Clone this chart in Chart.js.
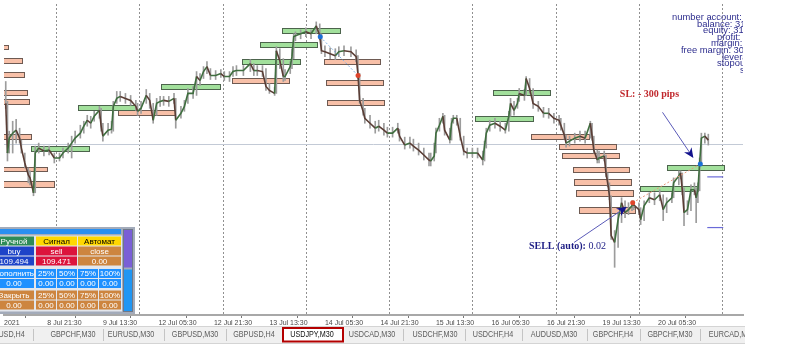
<!DOCTYPE html>
<html lang="ru">
<head>
    <meta charset="UTF-8">
    <title>USDJPY,M30</title>
    <script src="https://cdn.jsdelivr.net/npm/chart.js"></script>
    <style>
        html, body { margin: 0; padding: 0; background: #fff; }
        canvas { display: block; }
    </style>
</head>
<body>
    <canvas id="usdjpyChart" width="800" height="347"></canvas>

    <script>
        // M30 bar index (0 = left edge of the window)
        var bars = [
            1, 2, 3, 5, 7, 9, 10, 12, 14, 15,
            17, 18, 20, 23, 26, 29, 32, 34, 37, 39,
            41, 44, 46, 48, 50, 52, 55, 56, 57, 60,
            62, 63, 65, 67, 70, 73, 76, 77, 79, 82,
            84, 86, 88, 90, 92, 95, 98, 99, 102, 104,
            106, 109, 111, 113, 115, 117, 119, 122, 125, 127,
            130, 132, 134, 138, 142, 144, 146, 149, 151, 153,
            156, 157, 159, 161, 162, 165, 166, 167, 168, 171,
            174, 177, 180, 182, 183, 185, 188, 191, 193, 196,
            200, 203, 204, 205, 207, 208, 211, 214, 216, 219,
            221, 224, 227, 228, 231, 234, 236, 239, 242, 245,
            246, 248, 249, 251, 253, 254, 257, 258, 259, 261,
            263, 265, 267, 270, 273, 276, 277, 278, 280, 283,
            286, 289, 291, 292, 294, 296, 297, 300, 301, 303,
            305, 308, 311, 314, 317, 320, 321, 323, 324, 326,
            329, 332, 335, 338, 339, 340, 342, 343, 346, 347,
            348, 349, 350, 352, 354, 356, 358, 360, 362, 363,
            366, 367, 369, 372, 375, 378, 380, 382, 385, 386,
            389, 390, 391, 392, 394, 396, 398, 399, 400, 401,
            402, 404, 406
        ];
        var closes = [
            109.700, 109.450, 109.525, 109.550, 109.565, 109.525, 109.475, 109.400, 109.340, 109.325,
            109.250, 109.450, 109.475, 109.460, 109.465, 109.425, 109.425, 109.450, 109.475, 109.500,
            109.525, 109.550, 109.585, 109.615, 109.600, 109.635, 109.665, 109.585, 109.535, 109.565,
            109.570, 109.685, 109.725, 109.735, 109.725, 109.715, 109.685, 109.660, 109.675, 109.740,
            109.715, 109.615, 109.700, 109.710, 109.715, 109.710, 109.725, 109.615, 109.650, 109.685,
            109.750, 109.750, 109.835, 109.815, 109.860, 109.885, 109.840, 109.840, 109.850, 109.835,
            109.835, 109.860, 109.865, 109.865, 109.900, 109.865, 109.865, 109.860, 109.785, 109.765,
            109.750, 109.965, 109.915, 109.835, 109.835, 109.885, 109.935, 110.035, 110.040, 110.050,
            110.060, 110.050, 110.090, 110.040, 109.965, 109.960, 109.950, 109.940, 109.960, 109.965,
            109.960, 109.935, 109.850, 109.715, 109.660, 109.625, 109.600, 109.575, 109.585, 109.565,
            109.550, 109.550, 109.575, 109.535, 109.490, 109.500, 109.485, 109.465, 109.440, 109.415,
            109.410, 109.435, 109.550, 109.590, 109.635, 109.565, 109.515, 109.600, 109.625, 109.625,
            109.535, 109.460, 109.450, 109.450, 109.450, 109.415, 109.485, 109.550, 109.590, 109.600,
            109.585, 109.565, 109.635, 109.700, 109.665, 109.700, 109.750, 109.740, 109.825, 109.775,
            109.700, 109.685, 109.650, 109.650, 109.625, 109.615, 109.590, 109.540, 109.500, 109.510,
            109.525, 109.535, 109.525, 109.600, 109.535, 109.465, 109.415, 109.425, 109.435, 109.350,
            109.300, 109.235, 109.035, 109.000, 109.115, 109.200, 109.150, 109.165, 109.185, 109.190,
            109.165, 109.115, 109.185, 109.225, 109.215, 109.240, 109.165, 109.200, 109.225, 109.300,
            109.335, 109.350, 109.265, 109.150, 109.165, 109.265, 109.265, 109.225, 109.265, 109.400,
            109.525, 109.535, 109.515
        ];
        var highs = [
            109.810, 109.710, 109.560, 109.610, 109.620, 109.575, 109.515, 109.450, 109.375, 109.360,
            109.300, 109.485, 109.500, 109.485, 109.485, 109.450, 109.450, 109.475, 109.500, 109.535,
            109.560, 109.590, 109.610, 109.640, 109.635, 109.660, 109.685, 109.675, 109.600, 109.600,
            109.610, 109.710, 109.760, 109.760, 109.750, 109.740, 109.715, 109.700, 109.710, 109.770,
            109.750, 109.700, 109.725, 109.735, 109.735, 109.735, 109.750, 109.725, 109.685, 109.715,
            109.775, 109.785, 109.860, 109.850, 109.885, 109.910, 109.875, 109.865, 109.870, 109.860,
            109.860, 109.885, 109.890, 109.890, 109.920, 109.900, 109.890, 109.890, 109.875, 109.800,
            109.780, 109.985, 109.975, 109.925, 109.870, 109.910, 109.975, 110.050, 110.060, 110.070,
            110.080, 110.070, 110.110, 110.100, 110.050, 109.990, 109.980, 109.975, 109.985, 109.990,
            109.985, 109.970, 109.940, 109.850, 109.725, 109.675, 109.640, 109.610, 109.615, 109.600,
            109.580, 109.580, 109.600, 109.570, 109.530, 109.530, 109.520, 109.500, 109.475, 109.450,
            109.450, 109.500, 109.575, 109.625, 109.650, 109.640, 109.575, 109.625, 109.640, 109.640,
            109.625, 109.535, 109.475, 109.475, 109.475, 109.460, 109.510, 109.575, 109.615, 109.625,
            109.610, 109.600, 109.660, 109.725, 109.710, 109.725, 109.775, 109.770, 109.835, 109.825,
            109.775, 109.710, 109.680, 109.675, 109.650, 109.640, 109.625, 109.600, 109.540, 109.535,
            109.550, 109.560, 109.560, 109.610, 109.600, 109.535, 109.465, 109.460, 109.460, 109.440,
            109.350, 109.300, 109.235, 109.060, 109.150, 109.225, 109.210, 109.200, 109.210, 109.210,
            109.200, 109.175, 109.210, 109.250, 109.250, 109.265, 109.240, 109.225, 109.250, 109.325,
            109.360, 109.360, 109.350, 109.275, 109.210, 109.290, 109.300, 109.275, 109.300, 109.425,
            109.550, 109.550, 109.545
        ];
        var lows = [
            109.675, 109.410, 109.450, 109.450, 109.500, 109.500, 109.450, 109.375, 109.300, 109.290,
            109.235, 109.250, 109.450, 109.435, 109.440, 109.400, 109.410, 109.425, 109.450, 109.425,
            109.500, 109.525, 109.550, 109.585, 109.575, 109.610, 109.625, 109.560, 109.510, 109.540,
            109.550, 109.560, 109.700, 109.710, 109.700, 109.690, 109.665, 109.640, 109.650, 109.700,
            109.675, 109.600, 109.640, 109.685, 109.690, 109.685, 109.700, 109.575, 109.625, 109.660,
            109.700, 109.725, 109.740, 109.790, 109.825, 109.850, 109.820, 109.820, 109.830, 109.815,
            109.810, 109.835, 109.840, 109.840, 109.860, 109.840, 109.840, 109.835, 109.765, 109.750,
            109.740, 109.750, 109.875, 109.810, 109.815, 109.850, 109.875, 109.925, 110.015, 110.025,
            110.035, 110.025, 110.050, 110.020, 109.950, 109.935, 109.925, 109.920, 109.935, 109.940,
            109.935, 109.910, 109.825, 109.700, 109.640, 109.600, 109.575, 109.550, 109.560, 109.540,
            109.530, 109.530, 109.550, 109.510, 109.470, 109.475, 109.460, 109.440, 109.415, 109.385,
            109.385, 109.410, 109.450, 109.560, 109.600, 109.540, 109.500, 109.515, 109.600, 109.590,
            109.515, 109.440, 109.425, 109.430, 109.425, 109.390, 109.410, 109.475, 109.560, 109.575,
            109.560, 109.550, 109.560, 109.635, 109.640, 109.675, 109.710, 109.715, 109.740, 109.750,
            109.675, 109.660, 109.630, 109.625, 109.600, 109.590, 109.565, 109.520, 109.480, 109.485,
            109.500, 109.510, 109.500, 109.525, 109.515, 109.450, 109.400, 109.400, 109.410, 109.330,
            109.280, 109.215, 109.015, 108.875, 108.975, 109.100, 109.125, 109.140, 109.160, 109.165,
            109.140, 109.090, 109.110, 109.200, 109.190, 109.210, 109.110, 109.150, 109.200, 109.225,
            109.290, 109.320, 109.240, 109.085, 109.140, 109.160, 109.240, 109.100, 109.200, 109.260,
            109.400, 109.500, 109.490
        ];

        var tickBars = [0, 25, 57, 89, 121, 153, 185, 217, 249, 281, 313, 345, 377];
        var tickLabels = ['2021', '8 Jul 21:30', '9 Jul 13:30', '12 Jul 05:30', '12 Jul 21:30', '13 Jul 13:30',
            '14 Jul 05:30', '14 Jul 21:30', '15 Jul 13:30', '16 Jul 05:30', '16 Jul 21:30', '19 Jul 13:30', '20 Jul 05:30'];
        var separatorBars = [30, 78, 126, 174, 222, 270, 318, 366, 414];

        var bidLevel = 109.495;

        // zones: [start bar, end bar, upper price, lower price]
        var sellZones = [
            [-20, 2.3, 109.992, 109.975], [-20, 10.3, 109.927, 109.903], [-20, 11.5, 109.857, 109.833],
            [-20, 13.2, 109.767, 109.740], [-20, 14.4, 109.722, 109.698], [-20, 15.5, 109.547, 109.523],
            [-20, 24.7, 109.382, 109.358], [-20, 28.7, 109.307, 109.280], [66, 98.7, 109.667, 109.643],
            [131.4, 164.2, 109.827, 109.803], [184.3, 217, 109.922, 109.898], [185.4, 218.2, 109.817, 109.793],
            [186, 219.3, 109.717, 109.690], [303.7, 337, 109.547, 109.520], [319.7, 353, 109.497, 109.470],
            [321.5, 354.8, 109.452, 109.425], [327.8, 360.5, 109.382, 109.355], [328.4, 361.7, 109.317, 109.290],
            [329.5, 362.8, 109.262, 109.235], [331.2, 364, 109.177, 109.150]
        ];
        var buyZones = [
            [15.5, 48.8, 109.487, 109.460], [42.5, 75.8, 109.692, 109.668], [90.7, 124.6, 109.797, 109.770],
            [137.2, 170.5, 109.922, 109.898], [147.5, 180.3, 110.007, 109.983], [160.2, 193.5, 110.077, 110.053],
            [271.5, 304.8, 109.637, 109.613], [281.9, 314.6, 109.767, 109.740], [366.8, 400.1, 109.282, 109.258],
            [382.3, 415, 109.392, 109.365]
        ];

        // trades: [bar, price] open -> close
        var trade1 = [[182.3, 110.035], [204.1, 109.840]];
        var trade2 = [[362.4, 109.200], [401.4, 109.395]];
        var levelLines = [[405.4, 414.6, 109.330], [405.4, 414.6, 109.075]];
        var sellArrow = [[328.6, 109.000], [359.0, 109.180]];
        var slArrow = [[379.6, 109.655], [397.4, 109.425]];

        var infoLines = ['number account:', 'balance: 31', 'equity: 31', 'profit:', 'margin:',
            'free margin: 30', 'levera', 'stopou', 's'];
        var infoX = [672, 697, 703, 717, 711, 681, 722, 717, 740];

        var tabNames = ['EURUSD,H4', 'GBPCHF,M30', 'EURUSD,M30', 'GBPUSD,M30', 'GBPUSD,H4', 'USDJPY,M30',
            'USDCAD,M30', 'USDCHF,M30', 'USDCHF,H4', 'AUDUSD,M30', 'GBPCHF,H4', 'GBPCHF,M30', 'EURCAD,M30'];
        var tabCenters = [4, 73, 131, 195, 254, 312, 372, 435, 493, 554, 613, 670, 732];
        var tabSeparators = [33, 103, 164, 226, 403, 465, 522, 587, 640, 700];

        var col3 = [[-8, 34], [36, 77], [78, 121]];
        var col5 = [[-8, 34], [36, 56], [57, 77], [78, 98], [99, 121]];
        var panelRows = [
            { top: 236.5, cols: col3, cells: [['Ручной', '#2e8b57', '#fff'], ['Сигнал', '#ffd700', '#000'], ['Автомат', '#ffd700', '#000']] },
            { top: 246.5, cols: col3, cells: [['buy', '#1e44c8', '#fff'], ['sell', '#dc143c', '#fff'], ['close', '#cd853f', '#fff']] },
            { top: 256.5, cols: col3, cells: [['109.494', '#1e44c8', '#fff'], ['109.471', '#dc143c', '#fff'], ['0.00', '#cd853f', '#fff']] },
            { top: 269, cols: col5, cells: [['Дополнить', '#1e90ff', '#fff'], ['25%', '#1e90ff', '#fff'], ['50%', '#1e90ff', '#fff'], ['75%', '#1e90ff', '#fff'], ['100%', '#1e90ff', '#fff']] },
            { top: 279, cols: col5, cells: [['0.00', '#1e90ff', '#fff'], ['0.00', '#1e90ff', '#fff'], ['0.00', '#1e90ff', '#fff'], ['0.00', '#1e90ff', '#fff'], ['0.00', '#1e90ff', '#fff']] },
            { top: 290.5, cols: col5, cells: [['Закрыть', '#cd853f', '#fff'], ['25%', '#cd853f', '#fff'], ['50%', '#cd853f', '#fff'], ['75%', '#cd853f', '#fff'], ['100%', '#cd853f', '#fff']] },
            { top: 300.5, cols: col5, cells: [['0.00', '#cd853f', '#fff'], ['0.00', '#cd853f', '#fff'], ['0.00', '#cd853f', '#fff'], ['0.00', '#cd853f', '#fff'], ['0.00', '#cd853f', '#fff']] }
        ];

        function pts(list) {
            return list.map(function(p) { return { x: p[0], y: p[1] }; });
        }

        // things behind the candles: separators, bid line, zones
        var backdrop = {
            id: 'backdrop',
            beforeDatasetsDraw: function(chart) {
                var ctx = chart.ctx, a = chart.chartArea, x = chart.scales.x, y = chart.scales.y;
                ctx.save();
                ctx.beginPath();
                ctx.rect(a.left, a.top, a.right - a.left, a.bottom - a.top);
                ctx.clip();

                ctx.strokeStyle = '#909090';
                ctx.lineWidth = 1;
                ctx.setLineDash([2, 2]);
                separatorBars.forEach(function(b) {
                    var px = Math.round(x.getPixelForValue(b)) + 0.5;
                    ctx.beginPath();
                    ctx.moveTo(px, a.top);
                    ctx.lineTo(px, a.bottom);
                    ctx.stroke();
                });
                ctx.setLineDash([]);

                var by = Math.round(y.getPixelForValue(bidLevel)) + 0.5;
                ctx.strokeStyle = '#c3cad6';
                ctx.beginPath();
                ctx.moveTo(a.left, by);
                ctx.lineTo(a.right, by);
                ctx.stroke();

                function zones(list, fill, edge) {
                    list.forEach(function(z) {
                        var x0 = Math.round(x.getPixelForValue(z[0])) + 0.5;
                        var x1 = Math.round(x.getPixelForValue(z[1])) + 0.5;
                        var y0 = Math.round(y.getPixelForValue(z[2])) + 0.5;
                        var y1 = Math.round(y.getPixelForValue(z[3])) + 0.5;
                        ctx.fillStyle = fill;
                        ctx.fillRect(x0, y0, x1 - x0, y1 - y0);
                        ctx.strokeStyle = edge;
                        ctx.strokeRect(x0, y0, x1 - x0, y1 - y0);
                    });
                }
                zones(sellZones, '#f8c0a8', '#6e5a52');
                zones(buyZones, '#a2e09c', '#4c644c');
                ctx.restore();
            }
        };

        function arrow(ctx, x, y, seg) {
            var x0 = x.getPixelForValue(seg[0][0]), y0 = y.getPixelForValue(seg[0][1]);
            var x1 = x.getPixelForValue(seg[1][0]), y1 = y.getPixelForValue(seg[1][1]);
            var ang = Math.atan2(y1 - y0, x1 - x0);
            ctx.strokeStyle = '#5a5ab8';
            ctx.lineWidth = 1;
            ctx.beginPath();
            ctx.moveTo(x0, y0);
            ctx.lineTo(x1 - 6 * Math.cos(ang), y1 - 6 * Math.sin(ang));
            ctx.stroke();
            ctx.fillStyle = '#12128c';
            ctx.beginPath();
            ctx.moveTo(x1, y1);
            ctx.lineTo(x1 - 10 * Math.cos(ang) + 4.5 * Math.sin(ang), y1 - 10 * Math.sin(ang) - 4.5 * Math.cos(ang));
            ctx.lineTo(x1 - 7 * Math.cos(ang), y1 - 7 * Math.sin(ang));
            ctx.lineTo(x1 - 10 * Math.cos(ang) - 4.5 * Math.sin(ang), y1 - 10 * Math.sin(ang) + 4.5 * Math.cos(ang));
            ctx.closePath();
            ctx.fill();
        }

        function narrowText(ctx, txt, cx, cy, sx) {
            ctx.save();
            ctx.translate(cx, cy);
            ctx.scale(sx, 1);
            ctx.fillText(txt, 0, 0);
            ctx.restore();
        }

        // annotations, terminal panel, account info and tab bar
        var overlay = {
            id: 'overlay',
            afterDraw: function(chart) {
                var ctx = chart.ctx, a = chart.chartArea, x = chart.scales.x, y = chart.scales.y;
                ctx.save();
                ctx.beginPath();
                ctx.rect(a.left, a.top, a.right - a.left, a.bottom - a.top);
                ctx.clip();

                arrow(ctx, x, y, sellArrow);
                arrow(ctx, x, y, slArrow);

                ctx.textBaseline = 'alphabetic';
                ctx.textAlign = 'left';
                ctx.font = 'bold 10px "Liberation Serif"';
                ctx.fillStyle = '#c0282d';
                ctx.fillText('SL: - 300 pips', x.getPixelForValue(355), y.getPixelForValue(109.730));

                var sx = x.getPixelForValue(302.6), sy = y.getPixelForValue(108.965);
                ctx.font = 'bold 10px "Liberation Serif"';
                ctx.fillStyle = '#1c1c84';
                ctx.fillText('SELL (auto):', sx, sy);
                var w = ctx.measureText('SELL (auto):').width;
                ctx.font = '10px "Liberation Serif"';
                ctx.fillText(' 0.02', sx + w, sy);

                ctx.font = '9.4px "Liberation Sans"';
                ctx.fillStyle = '#2e2e8e';
                infoLines.forEach(function(t, i) {
                    ctx.fillText(t, infoX[i], 20 + i * 6.6);
                });
                ctx.font = '7px "Liberation Sans"';
                ctx.fillStyle = '#9a9a9a';
                ctx.fillText('Rasc', 731, 4);
                ctx.restore();

                // order panel
                ctx.save();
                ctx.fillStyle = '#a3abba';
                ctx.fillRect(0, 227, 135, 87);
                ctx.fillStyle = '#e3e6ec';
                ctx.fillRect(0, 235.5, 122, 76);
                ctx.fillStyle = '#2a8ff0';
                ctx.fillRect(0, 229, 121, 5);
                ctx.fillStyle = '#7a5fd6';
                ctx.fillRect(124, 229.5, 8, 38);
                ctx.fillStyle = '#2196f3';
                ctx.fillRect(124, 269.5, 8, 42);
                ctx.strokeStyle = '#6f7888';
                ctx.lineWidth = 1;
                ctx.strokeRect(123.5, 229.5, 9, 82);
                ctx.font = '8px "Liberation Sans"';
                ctx.textAlign = 'center';
                ctx.textBaseline = 'middle';
                panelRows.forEach(function(r) {
                    r.cells.forEach(function(c, i) {
                        var x0 = r.cols[i][0], x1 = r.cols[i][1];
                        ctx.fillStyle = c[1];
                        ctx.fillRect(x0, r.top, x1 - x0, 9);
                        ctx.fillStyle = c[2];
                        ctx.fillText(c[0], i === 0 ? 14 : (x0 + x1) / 2, r.top + 5);
                    });
                });
                ctx.restore();

                // tab bar
                ctx.save();
                ctx.beginPath();
                ctx.rect(0, 320, 745, 27);
                ctx.clip();
                ctx.fillStyle = '#f0f0f0';
                ctx.fillRect(0, 326, 745, 17);
                ctx.fillStyle = '#d4d4d4';
                ctx.fillRect(0, 326, 745, 1);
                ctx.fillRect(0, 343, 745, 1);
                ctx.fillStyle = '#c4c4c4';
                tabSeparators.forEach(function(s) { ctx.fillRect(s, 329, 1, 12); });
                ctx.fillStyle = '#ffffff';
                ctx.fillRect(283, 328, 60, 13.5);
                ctx.strokeStyle = '#b40000';
                ctx.lineWidth = 2;
                ctx.strokeRect(283, 328, 60, 13.5);
                ctx.font = '9px "Liberation Sans"';
                ctx.textAlign = 'center';
                ctx.textBaseline = 'middle';
                tabNames.forEach(function(t, i) {
                    ctx.fillStyle = t === 'USDJPY,M30' ? '#111' : '#5c5c5c';
                    narrowText(ctx, t, tabCenters[i], 335, 0.8);
                });
                ctx.restore();
            }
        };

        var ctx = document.getElementById('usdjpyChart').getContext('2d');
        var chart = new Chart(ctx, {
            type: 'line',
            data: {
                datasets: [{
                    type: 'bar',
                    label: 'High-Low',
                    data: bars.map(function(b, i) { return { x: b, y: [lows[i], highs[i]] }; }),
                    backgroundColor: '#9c9c9c',
                    barThickness: 1,
                    order: 6
                }, {
                    label: 'Close',
                    data: bars.map(function(b, i) { return { x: b, y: closes[i] }; }),
                    borderColor: '#444',
                    borderWidth: 1.6,
                    pointRadius: 0,
                    tension: 0,
                    segment: {
                        borderColor: function(c) { return c.p1.parsed.y >= c.p0.parsed.y ? '#3f6e3f' : '#5a3d35'; }
                    },
                    order: 5
                }, {
                    label: 'Trade 1',
                    data: pts(trade1),
                    borderColor: '#7fb0e2',
                    borderDash: [2, 2],
                    borderWidth: 1,
                    pointRadius: 2.5,
                    pointBorderWidth: 0,
                    pointBackgroundColor: ['#1a6fd6', '#e0452c'],
                    order: 2
                }, {
                    label: 'Trade 2',
                    data: pts(trade2),
                    borderColor: '#e8987c',
                    borderDash: [2, 2],
                    borderWidth: 1,
                    pointRadius: 2.5,
                    pointBorderWidth: 0,
                    pointBackgroundColor: ['#e0452c', '#1a6fd6'],
                    order: 2
                }, {
                    label: 'Level 1',
                    data: [{ x: levelLines[0][0], y: levelLines[0][2] }, { x: levelLines[0][1], y: levelLines[0][2] }],
                    borderColor: '#6a6ad8',
                    borderWidth: 1.2,
                    pointRadius: 0,
                    order: 3
                }, {
                    label: 'Level 2',
                    data: [{ x: levelLines[1][0], y: levelLines[1][2] }, { x: levelLines[1][1], y: levelLines[1][2] }],
                    borderColor: '#6a6ad8',
                    borderWidth: 1.2,
                    pointRadius: 0,
                    order: 3
                }]
            },
            options: {
                responsive: false,
                animation: false,
                events: [],
                layout: { padding: { left: 0, right: 57, top: 0, bottom: 0 } },
                plugins: {
                    legend: { display: false },
                    tooltip: { enabled: false }
                },
                scales: {
                    x: {
                        type: 'linear',
                        min: 0,
                        max: 426,
                        offset: false,
                        afterBuildTicks: function(scale) {
                            scale.ticks = tickBars.map(function(v) { return { value: v }; });
                        },
                        afterFit: function(scale) { scale.height = 32; },
                        grid: { drawOnChartArea: false, tickLength: 3, tickColor: '#777' },
                        border: { color: '#a8a8a8', width: 2 },
                        ticks: {
                            autoSkip: false,
                            maxRotation: 0,
                            align: 'start',
                            padding: 1,
                            color: '#4a4a4a',
                            font: { size: 7, family: 'Liberation Sans' },
                            callback: function(v, i) { return tickLabels[i]; }
                        }
                    },
                    y: {
                        display: false,
                        min: 108.635,
                        max: 110.2
                    }
                }
            },
            plugins: [backdrop, overlay]
        });
    </script>
</body>
</html>
